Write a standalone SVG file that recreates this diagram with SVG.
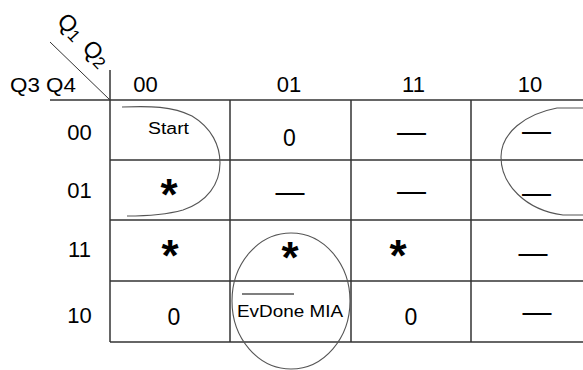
<svg xmlns="http://www.w3.org/2000/svg" width="583" height="370" viewBox="0 0 583 370">
  <style>
    .grid { stroke: #333; stroke-width: 1.5; fill: none; }
    .loop { stroke: #555; stroke-width: 1.1; fill: none; }
    .lbl { font-family: "Liberation Sans", Arial, sans-serif; font-size: 22px; fill: #000; text-anchor: middle; }
    .val { font-family: "Liberation Sans", Arial, sans-serif; font-size: 23px; fill: #000; text-anchor: middle; }
    .star { font-family: "Liberation Sans", Arial, sans-serif; font-size: 44px; font-weight: bold; fill: #000; text-anchor: middle; }
    .dash { font-family: "Liberation Sans", Arial, sans-serif; font-size: 29px; fill: #000; text-anchor: middle; }
    .small { font-family: "Liberation Sans", Arial, sans-serif; fill: #000; }
  </style>
  <rect width="583" height="370" fill="#fff"/>

  <!-- map grid -->
  <g id="grid">
    <line class="grid" x1="50" y1="100" x2="583" y2="100"/>
    <line class="grid" x1="110" y1="160" x2="583" y2="160"/>
    <line class="grid" x1="110" y1="220" x2="583" y2="220"/>
    <line class="grid" x1="110" y1="281" x2="583" y2="281"/>
    <line class="grid" x1="110" y1="342" x2="583" y2="342"/>
    <line class="grid" x1="110" y1="70" x2="110" y2="342"/>
    <line class="grid" x1="230" y1="100" x2="230" y2="342"/>
    <line class="grid" x1="351" y1="100" x2="351" y2="342"/>
    <line class="grid" x1="471" y1="100" x2="471" y2="342"/>
    <line stroke="#333" stroke-width="1" x1="50" y1="42" x2="110" y2="100"/>
  </g>

  <!-- variable names -->
  <g id="vars">
    <g transform="translate(56,22) rotate(47)">
      <text class="small" font-size="23" x="0" y="0">Q</text>
      <text class="small" font-size="17" x="17.5" y="2">1</text>
      <text class="small" font-size="23" x="37" y="0">Q</text>
      <text class="small" font-size="17" x="54.5" y="2">2</text>
    </g>
    <text class="small" font-size="21" x="10" y="92" textLength="66" lengthAdjust="spacingAndGlyphs">Q3 Q4</text>
  </g>

  <!-- column and row codes -->
  <g id="codes">
    <text class="lbl" x="145.5" y="92">00</text>
    <text class="lbl" x="289" y="92">01</text>
    <text class="lbl" x="413.5" y="92">11</text>
    <text class="lbl" x="530" y="92">10</text>
    <text class="lbl" x="79.5" y="140">00</text>
    <text class="lbl" x="79.5" y="198">01</text>
    <text class="lbl" x="79.5" y="257">11</text>
    <text class="lbl" x="79.5" y="323">10</text>
  </g>

  <!-- cell entries -->
  <g id="cells">
    <text class="small" font-size="16" x="148" y="134" textLength="41" lengthAdjust="spacingAndGlyphs">Start</text>
    <text class="val" x="289.5" y="146">0</text>
    <text class="val" x="174" y="325">0</text>
    <text class="val" x="411" y="325">0</text>

    <text class="star" x="169" y="210">*</text>
    <text class="star" x="170" y="271">*</text>
    <text class="star" x="290" y="273">*</text>
    <text class="star" x="398" y="271">*</text>

    <text class="dash" x="290" y="202">—</text>
    <text class="dash" x="411.5" y="142">—</text>
    <text class="dash" x="411.5" y="201">—</text>
    <text class="dash" x="536.5" y="141">—</text>
    <text class="dash" x="536.5" y="203">—</text>
    <text class="dash" x="533" y="263">—</text>
    <text class="dash" x="537" y="322">—</text>

    <line stroke="#000" stroke-width="1.2" x1="242" y1="294" x2="294" y2="294"/>
    <text class="small" font-size="17" x="237" y="317" textLength="106" lengthAdjust="spacingAndGlyphs">EvDone MIA</text>
  </g>

  <!-- groupings -->
  <g id="loops">
    <path class="loop" d="M122,107 C150,106 172,106 192,116 C212,128 220,146 220,163 C220,184 207,202 183,210 C165,215 145,216 127,216"/>
    <path class="loop" d="M583,108 L557,108 C525,114 501,133 501,157 C501,184 525,210 563,215 L583,215"/>
    <ellipse class="loop" cx="291" cy="301" rx="59" ry="68"/>
  </g>
</svg>
